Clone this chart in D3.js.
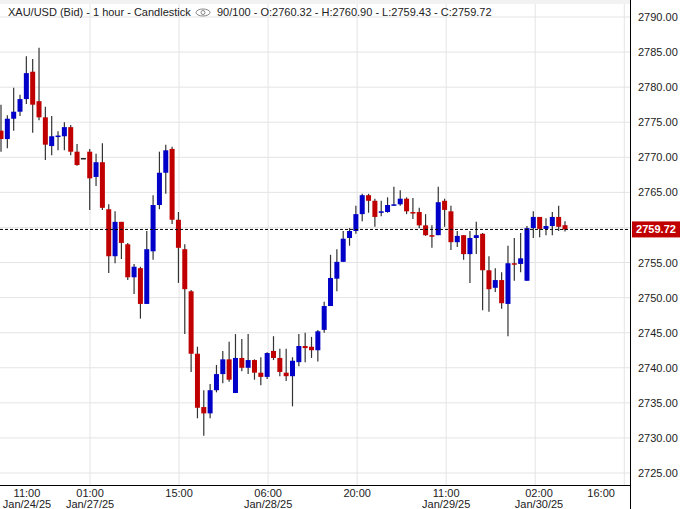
<!DOCTYPE html>
<html><head><meta charset="utf-8">
<script src="https://cdn.jsdelivr.net/npm/d3@7"></script>
<style>body{margin:0;background:#fff}svg{display:block;font-family:"Liberation Sans",Arial,sans-serif}</style>
</head><body>
<svg id="c" width="687" height="509"></svg>
<script>
const opens=[2773.8,2772.6,2775.5,2776.5,2778.3,2782.2,2778.0,2775.7,2771.6,2773.0,2773.0,2774.3,2770.8,2769.9,2770.8,2767.2,2769.3,2762.6,2755.9,2760.8,2757.6,2752.9,2754.2,2749.1,2756.6,2763.2,2767.8,2771.2,2761.1,2756.9,2750.9,2742.0,2734.4,2733.5,2736.8,2739.1,2741.2,2736.4,2741.4,2740.0,2741.1,2739.3,2738.7,2742.4,2741.4,2739.3,2738.8,2740.8,2743.1,2743.0,2742.5,2745.4,2748.8,2752.7,2755.1,2758.5,2759.5,2761.9,2764.6,2763.8,2762.1,2762.2,2763.2,2763.3,2764.1,2762.2,2762.2,2760.3,2758.9,2758.9,2763.8,2762.3,2757.9,2758.9,2756.2,2758.5,2759.1,2753.9,2751.4,2752.5,2749.1,2754.9,2754.8,2752.4,2759.9,2761.5,2759.8,2760.2,2761.5,2760.32];
const closes=[2772.6,2775.5,2776.5,2778.3,2782.0,2777.5,2775.7,2771.8,2773.0,2773.1,2774.3,2770.8,2768.9,2769.9,2767.0,2769.3,2762.8,2755.9,2760.8,2757.8,2752.9,2754.4,2749.1,2756.9,2763.2,2767.8,2771.0,2761.1,2757.1,2751.2,2742.0,2734.3,2733.5,2736.8,2739.1,2741.2,2738.3,2741.4,2740.0,2741.1,2739.3,2738.7,2742.1,2741.4,2739.4,2738.8,2741.0,2743.1,2742.8,2742.5,2745.2,2748.8,2752.8,2755.1,2758.4,2759.5,2761.9,2764.6,2763.8,2761.5,2762.3,2763.2,2763.3,2764.1,2762.3,2762.1,2760.3,2758.9,2758.8,2763.6,2762.5,2757.9,2758.8,2756.2,2758.5,2758.9,2753.9,2751.2,2752.5,2749.2,2754.9,2754.8,2755.6,2759.9,2761.5,2759.8,2760.2,2761.5,2760.1,2759.72];
const highs=[2777.5,2776.0,2779.9,2778.9,2784.4,2784.0,2785.6,2777.2,2775.9,2773.7,2775.0,2774.6,2771.9,2769.9,2771.2,2770.5,2772.0,2763.3,2762.3,2760.8,2757.8,2754.8,2754.4,2759.5,2764.6,2770.8,2771.8,2771.5,2762.2,2757.6,2751.1,2743.0,2736.8,2737.7,2740.4,2742.4,2743.7,2744.8,2744.1,2744.8,2741.2,2741.5,2742.2,2744.5,2742.7,2742.7,2741.5,2744.8,2745.0,2744.4,2745.4,2749.4,2756.1,2756.9,2759.5,2759.9,2763.1,2764.8,2764.8,2764.1,2763.8,2764.3,2765.8,2765.3,2764.3,2764.2,2762.8,2761.9,2760.3,2765.8,2764.1,2763.1,2759.5,2758.9,2759.5,2760.8,2759.2,2755.9,2754.2,2753.6,2757.4,2758.5,2759.2,2760.2,2762.3,2761.5,2761.3,2762.2,2763.1,2760.90];
const lows=[2770.8,2771.3,2773.8,2775.9,2777.6,2773.5,2775.3,2769.6,2770.3,2771.0,2771.0,2770.3,2768.8,2769.9,2762.5,2765.9,2762.5,2753.5,2754.9,2755.5,2752.5,2750.5,2747.0,2749.1,2755.4,2762.6,2764.8,2760.5,2752.1,2744.8,2739.4,2732.8,2730.3,2732.8,2736.5,2737.8,2738.0,2736.4,2739.5,2739.1,2738.3,2737.5,2738.4,2741.1,2738.8,2738.1,2734.5,2740.2,2740.8,2741.4,2740.9,2745.0,2748.8,2750.9,2755.1,2757.4,2759.1,2760.9,2762.1,2760.1,2761.6,2762.1,2763.1,2763.1,2761.9,2761.2,2759.9,2758.8,2757.1,2758.9,2760.1,2756.8,2757.2,2755.4,2752.1,2756.2,2748.2,2748.0,2750.8,2748.4,2744.5,2752.4,2753.6,2752.4,2758.5,2758.6,2758.9,2758.9,2759.5,2759.43];
const priceTicks=[2725,2730,2735,2740,2745,2750,2755,2760,2765,2770,2775,2780,2785,2790];
const gridIdx=[14.05,28.1,42.15,56.2,70.25,84.3,98.35];
const timeLabels=[{i:4.1,t:"11:00",d:"Jan/24/25"},{i:14.05,t:"01:00",d:"Jan/27/25"},{i:28.1,t:"15:00",d:""},{i:42.15,t:"06:00",d:"Jan/28/25"},{i:56.2,t:"20:00",d:""},{i:70.25,t:"11:00",d:"Jan/29/25"},{i:84.9,t:"02:00",d:"Jan/30/25"},{i:94.7,t:"16:00",d:""}];
const lastClose=2759.72;

const svg=d3.select("#c");
const W=630,B=485;
const x=d3.scaleLinear().domain([0,89]).range([1,565]);
const y=d3.scaleLinear().domain([2725,2790]).range([473,17]);
const data=opens.map((o,i)=>({i,o,c:closes[i],h:highs[i],l:lows[i]}));
svg.append("g").selectAll("line").data(priceTicks).join("line")
 .attr("x1",0).attr("x2",W).attr("y1",d=>y(d)).attr("y2",d=>y(d)).attr("stroke","#e4e4e4");
svg.append("g").selectAll("line").data(gridIdx).join("line")
 .attr("x1",d=>x(d)).attr("x2",d=>x(d)).attr("y1",0).attr("y2",B).attr("stroke","#e4e4e4");
const g=svg.append("g");
g.selectAll(".w").data(data).join("line").attr("x1",d=>x(d.i)).attr("x2",d=>x(d.i))
 .attr("y1",d=>y(d.h)).attr("y2",d=>y(d.l)).attr("stroke","#333").attr("stroke-width",1.2);
g.selectAll(".b").data(data).join("rect").attr("x",d=>x(d.i)-2.5).attr("width",5)
 .attr("y",d=>y(Math.max(d.o,d.c))).attr("height",d=>Math.max(1.5,Math.abs(y(d.o)-y(d.c))))
 .attr("fill",d=>d.c>d.o?"#0000c8":d.c<d.o?"#c00000":"#222");
svg.append("line").attr("x1",0).attr("x2",W).attr("y1",y(lastClose)).attr("y2",y(lastClose))
 .attr("stroke","#000").attr("stroke-dasharray","3,2");
svg.append("line").attr("x1",W+0.5).attr("x2",W+0.5).attr("y1",0).attr("y2",509).attr("stroke","#000");
svg.append("line").attr("x1",0).attr("x2",W).attr("y1",B+0.5).attr("y2",B+0.5).attr("stroke","#000");
svg.append("g").selectAll("text").data(priceTicks.filter(d=>Math.abs(y(d)-y(lastClose))>14)).join("text")
 .attr("x",638).attr("y",d=>y(d)+4).attr("font-size",11).attr("fill","#222").text(d=>d.toFixed(2));
svg.append("rect").attr("x",632).attr("y",y(lastClose)-8).attr("width",48).attr("height",16).attr("fill","#c00000");
svg.append("text").attr("x",656).attr("y",y(lastClose)+4).attr("text-anchor","middle").attr("font-size",11)
 .attr("font-weight","bold").attr("fill","#fff").text(lastClose.toFixed(2));
const xl=svg.append("g").selectAll("g").data(timeLabels).join("g").attr("transform",d=>`translate(${x(d.i)},0)`);
xl.append("text").attr("y",497).attr("text-anchor","middle").attr("font-size",11).attr("fill","#222").text(d=>d.t);
xl.append("text").attr("y",508).attr("text-anchor","middle").attr("font-size",11).attr("fill","#222").text(d=>d.d);
svg.append("rect").attr("x",0).attr("y",0).attr("width",W).attr("height",4).attr("fill","#f2f2f2");
const f=v=>v.toFixed(2);
const n=data.length-1;
svg.append("text").attr("x",8).attr("y",16).attr("font-size",11).attr("fill","#222").text("XAU/USD (Bid) - 1 hour - Candlestick");
const eye=svg.append("g").attr("transform","translate(203,12.5)");
eye.append("ellipse").attr("rx",7).attr("ry",3.5).attr("fill","none").attr("stroke","#888");
eye.append("circle").attr("r",2).attr("fill","none").attr("stroke","#888");
svg.append("text").attr("x",217).attr("y",16).attr("font-size",11).attr("fill","#222")
 .text(`90/100 - O:${f(opens[n])} - H:${f(highs[n])} - L:${f(lows[n])} - C:${f(closes[n])}`);
</script>
</body></html>
